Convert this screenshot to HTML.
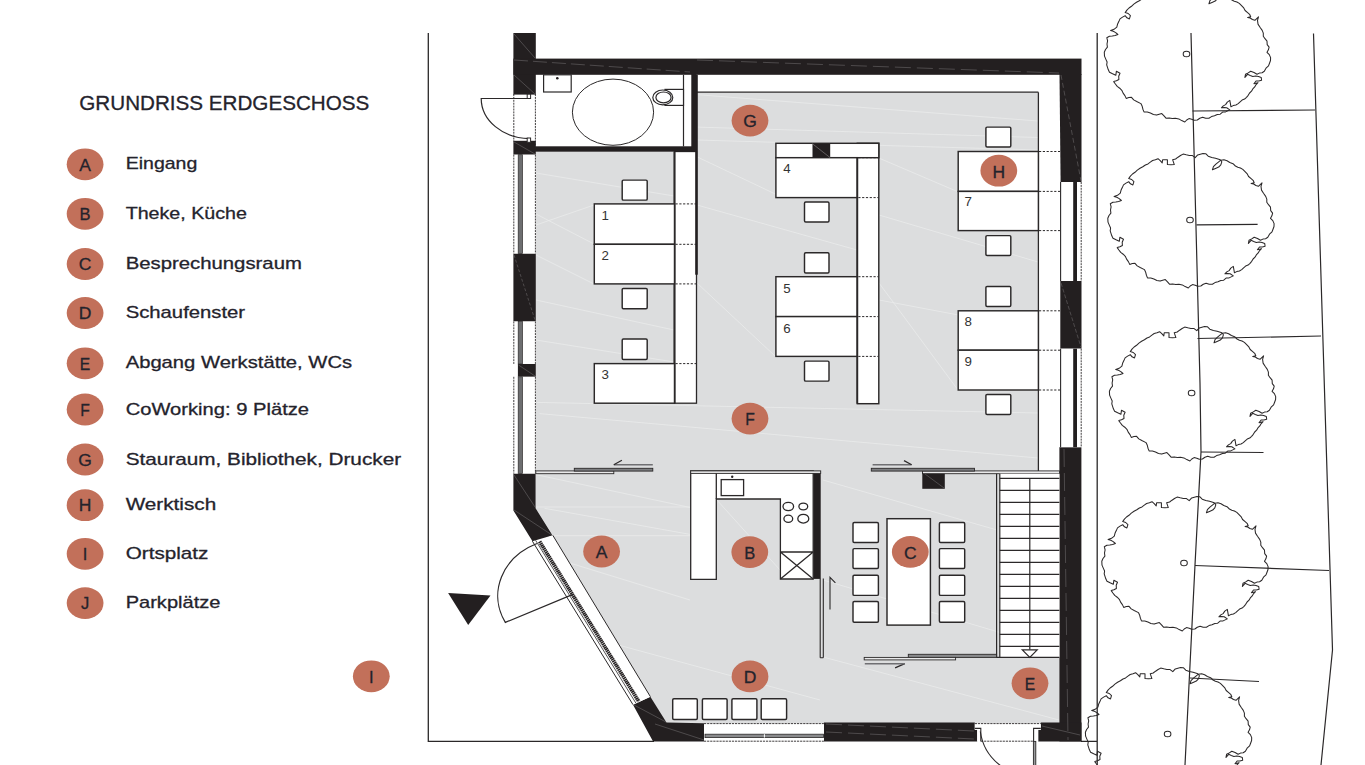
<!DOCTYPE html>
<html lang="de"><head><meta charset="utf-8"><title>Grundriss Erdgeschoss</title>
<style>html,body{margin:0;padding:0;background:#fff;overflow:hidden}svg{display:block}text{font-family:"Liberation Sans",sans-serif}.b{stroke:#24232c;stroke-width:0.3px}</style></head><body>
<svg width="1365" height="765" viewBox="0 0 1365 765">
<rect width="1365" height="765" fill="#fff"/>
<text class="b" x="79.3" y="110" font-size="20.6" fill="#24232c" textLength="290" lengthAdjust="spacingAndGlyphs">GRUNDRISS ERDGESCHOSS</text>
<ellipse cx="85.1" cy="164.3" rx="18.4" ry="15.9" fill="#c2705a"/>
<text class="b" x="85.1" y="170.6" font-size="16.5" fill="#24232c" text-anchor="middle" transform="translate(85.1 0) scale(1.06 1) translate(-85.1 0)">A</text>
<text class="b" x="125.7" y="169.4" font-size="17" fill="#24232c" textLength="71.6" lengthAdjust="spacingAndGlyphs">Eingang</text>
<ellipse cx="85.1" cy="213.8" rx="18.4" ry="15.9" fill="#c2705a"/>
<text class="b" x="85.1" y="220.1" font-size="16.5" fill="#24232c" text-anchor="middle" transform="translate(85.1 0) scale(1.0 1) translate(-85.1 0)">B</text>
<text class="b" x="125.7" y="218.9" font-size="17" fill="#24232c" textLength="121.2" lengthAdjust="spacingAndGlyphs">Theke, Küche</text>
<ellipse cx="85.1" cy="264.0" rx="18.4" ry="15.9" fill="#c2705a"/>
<text class="b" x="85.1" y="270.3" font-size="16.5" fill="#24232c" text-anchor="middle" transform="translate(85.1 0) scale(1.06 1) translate(-85.1 0)">C</text>
<text class="b" x="125.7" y="269.1" font-size="17" fill="#24232c" textLength="176.2" lengthAdjust="spacingAndGlyphs">Besprechungsraum</text>
<ellipse cx="85.1" cy="313.0" rx="18.4" ry="15.9" fill="#c2705a"/>
<text class="b" x="85.1" y="319.3" font-size="16.5" fill="#24232c" text-anchor="middle" transform="translate(85.1 0) scale(1.06 1) translate(-85.1 0)">D</text>
<text class="b" x="125.7" y="318.1" font-size="17" fill="#24232c" textLength="119.4" lengthAdjust="spacingAndGlyphs">Schaufenster</text>
<ellipse cx="85.1" cy="363.3" rx="18.4" ry="15.9" fill="#c2705a"/>
<text class="b" x="85.1" y="369.6" font-size="16.5" fill="#24232c" text-anchor="middle" transform="translate(85.1 0) scale(0.95 1) translate(-85.1 0)">E</text>
<text class="b" x="125.7" y="368.4" font-size="17" fill="#24232c" textLength="226.4" lengthAdjust="spacingAndGlyphs">Abgang Werkstätte, WCs</text>
<ellipse cx="85.1" cy="409.5" rx="18.4" ry="15.9" fill="#c2705a"/>
<text class="b" x="85.1" y="415.8" font-size="16.5" fill="#24232c" text-anchor="middle" transform="translate(85.1 0) scale(0.95 1) translate(-85.1 0)">F</text>
<text class="b" x="125.7" y="414.6" font-size="17" fill="#24232c" textLength="183.4" lengthAdjust="spacingAndGlyphs">CoWorking: 9 Plätze</text>
<ellipse cx="85.1" cy="459.5" rx="18.4" ry="15.9" fill="#c2705a"/>
<text class="b" x="85.1" y="465.8" font-size="16.5" fill="#24232c" text-anchor="middle" transform="translate(85.1 0) scale(1.06 1) translate(-85.1 0)">G</text>
<text class="b" x="125.7" y="464.6" font-size="17" fill="#24232c" textLength="275.4" lengthAdjust="spacingAndGlyphs">Stauraum, Bibliothek, Drucker</text>
<ellipse cx="85.1" cy="505.2" rx="18.4" ry="15.9" fill="#c2705a"/>
<text class="b" x="85.1" y="511.5" font-size="16.5" fill="#24232c" text-anchor="middle" transform="translate(85.1 0) scale(1.06 1) translate(-85.1 0)">H</text>
<text class="b" x="125.7" y="510.3" font-size="17" fill="#24232c" textLength="90.5" lengthAdjust="spacingAndGlyphs">Werktisch</text>
<ellipse cx="85.1" cy="553.8" rx="18.4" ry="15.9" fill="#c2705a"/>
<text class="b" x="85.1" y="560.1" font-size="16.5" fill="#24232c" text-anchor="middle" transform="translate(85.1 0) scale(1.0 1) translate(-85.1 0)">I</text>
<text class="b" x="125.7" y="558.9" font-size="17" fill="#24232c" textLength="82.7" lengthAdjust="spacingAndGlyphs">Ortsplatz</text>
<ellipse cx="85.1" cy="603.1" rx="18.4" ry="15.9" fill="#c2705a"/>
<text class="b" x="85.1" y="609.4" font-size="16.5" fill="#24232c" text-anchor="middle" transform="translate(85.1 0) scale(1.0 1) translate(-85.1 0)">J</text>
<text class="b" x="125.7" y="608.2" font-size="17" fill="#24232c" textLength="94.7" lengthAdjust="spacingAndGlyphs">Parkplätze</text>
<g fill="none" stroke="#2b2829" stroke-width="1.3">
<path d="M428.3 33 V741.4 H654"/>
<path d="M1097.2 33 V766 M1097.2 741.4 H1081"/>
</g>
<g fill="#dcddde">
<rect x="535.8" y="151.5" width="162" height="320"/>
<rect x="696.5" y="92.2" width="342" height="380"/>
<path d="M535.6 470.9 H1059.5 V723.5 H666.5 L552.8 535.3 L535.6 508.2 Z"/>
</g>
<g stroke="#eaebeb" stroke-width="0.8" fill="none">
<path d="M535.8 474.6 L690.2 507.5"/>
<path d="M535.8 507 L690 507"/>
<path d="M544.5 508.3 L690.2 534.4"/>
<path d="M553 535.7 L690 535.7"/>
<path d="M539.5 413.6 L1038 458"/>
<path d="M537 402.4 L1038 413"/>
<path d="M697.4 127.1 L1038 137.5"/>
<path d="M697.4 94.7 L1038 121"/>
<path d="M697.4 157 L775.9 194.3"/>
<path d="M879.2 158.2 L958.2 191.9"/>
<path d="M536 214 L594 244"/>
<path d="M536 255 L594 284"/>
<path d="M536 300 L674 330"/>
<path d="M536 340 L674 362"/>
<path d="M697 205 L857 250"/>
<path d="M697 283 L775 356"/>
<path d="M879 283 L958 390"/>
<path d="M879 215 L1038 262"/>
<path d="M879 300 L1038 330"/>
<path d="M560 560 L690 600"/>
<path d="M600 640 L820 700"/>
<path d="M823 657 L1059 720"/>
<path d="M823 580 L1059 650"/>
<path d="M716 499 L780 570"/>
<path d="M823 480 L997 530"/>
<path d="M536 173 L674 196"/>
<path d="M536 225 L594 205"/>
<path d="M697 140 L1038 150"/>
</g>
<rect x="535.8" y="74.8" width="156" height="72" fill="#fff"/>
<rect x="696.5" y="74.8" width="363" height="17.4" fill="#fff"/>
<path d="M696.5 92.2 H1038.4" stroke="#2b2829" stroke-width="1.3" fill="none"/>
<rect x="1038.4" y="92.2" width="22" height="378.7" fill="#fff"/>
<path d="M1038.4 92.2 V470.9" stroke="#2b2829" stroke-width="1.3" fill="none"/>
<rect x="674.5" y="151.5" width="22.0" height="251.7" fill="#fff" stroke="#2b2829" stroke-width="1.3" />
<path d="M674.5 151.5 V403.2" stroke="#2b2829" stroke-width="2" fill="none"/>
<path d="M696.5 74.8 V274.7" stroke="#231f20" stroke-width="2.6" fill="none"/>
<rect x="594.3" y="203.9" width="80.2" height="40.4" fill="#fff" stroke="#2b2829" stroke-width="1.45" />
<rect x="594.3" y="244.3" width="80.2" height="39.6" fill="#fff" stroke="#2b2829" stroke-width="1.45" />
<rect x="594.3" y="363.6" width="80.2" height="39.6" fill="#fff" stroke="#2b2829" stroke-width="1.45" />
<rect x="622.2" y="180.1" width="25.0" height="20.0" fill="#fff" stroke="#2b2829" stroke-width="1.45" rx="1.2"/>
<rect x="622.2" y="288.4" width="25.0" height="20.4" fill="#fff" stroke="#2b2829" stroke-width="1.45" rx="1.2"/>
<rect x="622.2" y="339" width="25.0" height="20.4" fill="#fff" stroke="#2b2829" stroke-width="1.45" rx="1.2"/>
<rect x="857.3" y="143.3" width="21.5" height="260.4" fill="#fff" stroke="#2b2829" stroke-width="1.45" />
<rect x="775.9" y="143.3" width="102.9" height="14.4" fill="#fff" stroke="#2b2829" stroke-width="1.45" />
<rect x="775.9" y="157.7" width="81.4" height="39.9" fill="#fff" stroke="#2b2829" stroke-width="1.45" />
<rect x="775.9" y="276.7" width="81.4" height="39.9" fill="#fff" stroke="#2b2829" stroke-width="1.45" />
<rect x="775.9" y="316.6" width="81.4" height="39.8" fill="#fff" stroke="#2b2829" stroke-width="1.45" />
<path d="M857.3 157.7 V403.7" stroke="#2b2829" stroke-width="1.8" fill="none"/>
<rect x="812.5" y="143.8" width="17.7" height="13.9" fill="#231f20"/>
<path d="M812.5 143.8 L830.2 157.7" stroke="#8a8788" stroke-width="0.6"/>
<rect x="804.5" y="202" width="24.5" height="19.9" fill="#fff" stroke="#2b2829" stroke-width="1.45" rx="1.2"/>
<rect x="804.5" y="252.8" width="24.5" height="20.2" fill="#fff" stroke="#2b2829" stroke-width="1.45" rx="1.2"/>
<rect x="804.5" y="361.1" width="24.5" height="20.0" fill="#fff" stroke="#2b2829" stroke-width="1.45" rx="1.2"/>
<rect x="958.2" y="151.5" width="80.2" height="39.9" fill="#fff" stroke="#2b2829" stroke-width="1.45" />
<rect x="958.2" y="191.4" width="80.2" height="39.2" fill="#fff" stroke="#2b2829" stroke-width="1.45" />
<rect x="958.2" y="310.8" width="80.2" height="39.4" fill="#fff" stroke="#2b2829" stroke-width="1.45" />
<rect x="958.2" y="350.2" width="80.2" height="39.8" fill="#fff" stroke="#2b2829" stroke-width="1.45" />
<rect x="985.9" y="127.1" width="24.9" height="19.9" fill="#fff" stroke="#2b2829" stroke-width="1.45" rx="1.2"/>
<rect x="985.9" y="235.6" width="24.9" height="19.9" fill="#fff" stroke="#2b2829" stroke-width="1.45" rx="1.2"/>
<rect x="985.9" y="286.4" width="24.9" height="20.0" fill="#fff" stroke="#2b2829" stroke-width="1.45" rx="1.2"/>
<rect x="985.9" y="394.4" width="24.9" height="20.0" fill="#fff" stroke="#2b2829" stroke-width="1.45" rx="1.2"/>
<g stroke="#2b2829" stroke-width="1" stroke-dasharray="2.2 1.6" fill="none">
<path d="M675.5 203.9 H696"/>
<path d="M675.5 244.3 H696"/>
<path d="M675.5 283.9 H696"/>
<path d="M675.5 363.6 H696"/>
<path d="M858.3 157.7 H878.5"/>
<path d="M858.3 197.6 H878.5"/>
<path d="M858.3 276.7 H878.5"/>
<path d="M858.3 316.6 H878.5"/>
<path d="M858.3 356.4 H878.5"/>
<path d="M1039 151.5 H1060"/>
<path d="M1039 191.4 H1060"/>
<path d="M1039 230.6 H1060"/>
<path d="M1039 310.8 H1060"/>
<path d="M1039 350.2 H1060"/>
<path d="M1039 390 H1060"/>
</g>
<text x="601.5" y="220.2" font-size="12.2" fill="#333" textLength="7.4" lengthAdjust="spacingAndGlyphs">1</text>
<text x="601.5" y="259.9" font-size="12.2" fill="#333" textLength="7.4" lengthAdjust="spacingAndGlyphs">2</text>
<text x="601.5" y="379" font-size="12.2" fill="#333" textLength="7.4" lengthAdjust="spacingAndGlyphs">3</text>
<text x="783.2" y="172.9" font-size="12.2" fill="#333" textLength="7.4" lengthAdjust="spacingAndGlyphs">4</text>
<text x="783.2" y="292.8" font-size="12.2" fill="#333" textLength="7.4" lengthAdjust="spacingAndGlyphs">5</text>
<text x="783.2" y="332.6" font-size="12.2" fill="#333" textLength="7.4" lengthAdjust="spacingAndGlyphs">6</text>
<text x="964.5" y="206.4" font-size="12.2" fill="#333" textLength="7.4" lengthAdjust="spacingAndGlyphs">7</text>
<text x="964.5" y="325.9" font-size="12.2" fill="#333" textLength="7.4" lengthAdjust="spacingAndGlyphs">8</text>
<text x="964.5" y="365.7" font-size="12.2" fill="#333" textLength="7.4" lengthAdjust="spacingAndGlyphs">9</text>
<g fill="#231f20">
<rect x="513.4" y="33" width="22.4" height="61.6"/>
<rect x="513.4" y="140.8" width="22.4" height="13.9"/>
<rect x="513.4" y="58.6" width="568.1" height="16.2"/>
<path d="M1059.5 74 H1081.5 V182 H1060.6 Z"/>
<rect x="1060.3" y="281" width="21.2" height="67.7"/>
<rect x="1059.4" y="447.2" width="22" height="294.2"/>
<rect x="535" y="146.3" width="161.5" height="5.4"/>
<rect x="691.3" y="74" width="5.2" height="77.6"/>
<rect x="513.4" y="253.5" width="22.4" height="68"/>
<rect x="517.9" y="363.9" width="17.9" height="12.9"/>
<path d="M513.4 473.5 H535.6 V508.2 L552.6 535.5 L533.4 542.8 L513.4 510.4 Z"/>
<path d="M633 704.7 L650.4 696.7 L666.5 722.6 L704 723.3 V741.4 H653.1 Z"/>
<path d="M823.9 722.6 H974.8 V729.8 H977.2 V741.4 H823.9 Z"/>
<path d="M1040.8 722.6 H1081.5 V741.4 H1038.2 V729.8 H1040.8 Z"/>
<rect x="922.3" y="472" width="22.5" height="16.8"/>
<rect x="813.2" y="470.9" width="7.5" height="108"/>
</g>
<g stroke="#6a6768" stroke-width="0.6" fill="none">
<path d="M514 34 L535 58" /><path d="M514 60 L690 72" stroke-dasharray="14 5"/><path d="M697 60 L1059 73" stroke-dasharray="16 6"/>
<path d="M514 75 L535 94"/><path d="M514 142 L535 154"/><path d="M514 255 L535 320" stroke-dasharray="3 2"/>
<path d="M1061 75 L1081 181" stroke-dasharray="5 3"/><path d="M1061 283 L1081 347" stroke-dasharray="4 2"/><path d="M1064 449 L1068 740" stroke-dasharray="18 6"/>
<path d="M514 475 L535 507"/><path d="M514 510 L552 535"/><path d="M634 705 L666 722"/><path d="M655 724 L704 740"/>
<path d="M826 724 L974 731" stroke-dasharray="16 6"/><path d="M826 732 L974 739" stroke-dasharray="16 6"/><path d="M1042 726 L1080 735"/>
<path d="M923 472.5 L944 488" /><path d="M518.5 365 L535 376"/>
</g>
<g fill="#fff" stroke="#2b2829" stroke-width="1.2">
<path d="M683.5 74.8 V146.5" fill="none"/>
<rect x="543.6" y="74.8" width="27.6" height="17.2"/>
<ellipse cx="613" cy="112.2" rx="40.6" ry="33.1" stroke-width="1"/>
<rect x="665" y="89.4" width="18.5" height="16"/>
<ellipse cx="662.8" cy="97.4" rx="10" ry="7.4"/>
<ellipse cx="663.5" cy="97.4" rx="7.6" ry="5.4"/>
</g>
<circle cx="557.3" cy="78.2" r="1.3" fill="#231f20"/>
<g fill="none" stroke="#2b2829" stroke-width="1.2">
<path d="M530.4 98.5 H481.2 A49 40.2 0 0 0 529.5 138.6"/>
<rect x="527.2" y="94.2" width="3.4" height="4.3" fill="#fff" stroke-width="1"/>
<rect x="527.2" y="138" width="3.4" height="4.3" fill="#fff" stroke-width="1"/>
</g>
<g fill="none" stroke="#2b2829" stroke-width="0.9" stroke-dasharray="2 0.9">
<path d="M513.8 94 V141.5"/><path d="M535.4 94 V146"/>
</g>
<rect x="513.4" y="154.7" width="22.4" height="98.8" fill="#fff"/>
<rect x="518.2" y="154.7" width="4.2" height="98.8" fill="#6d6e70" stroke="#2b2829" stroke-width="0.7"/>
<g fill="none" stroke="#2b2829" stroke-width="0.9" stroke-dasharray="2 0.9"><path d="M513.8 154.7 V253.5"/><path d="M535.4 154.7 V253.5"/></g>
<rect x="513.4" y="321.5" width="22.4" height="42.4" fill="#fff"/>
<rect x="518.2" y="321.5" width="4.2" height="42.4" fill="#6d6e70" stroke="#2b2829" stroke-width="0.7"/>
<g fill="none" stroke="#2b2829" stroke-width="0.9" stroke-dasharray="2 0.9"><path d="M513.8 321.5 V363.9"/><path d="M535.4 321.5 V363.9"/></g>
<rect x="513.4" y="376.8" width="22.4" height="96.7" fill="#fff"/>
<rect x="518.2" y="376.8" width="4.2" height="96.7" fill="#6d6e70" stroke="#2b2829" stroke-width="0.7"/>
<g fill="none" stroke="#2b2829" stroke-width="0.9" stroke-dasharray="2 0.9"><path d="M513.8 376.8 V473.5"/><path d="M535.4 376.8 V473.5"/></g>
<rect x="1060.3" y="182" width="21.2" height="99.0" fill="#fff"/>
<path d="M1060.6 182 V281" stroke="#2b2829" stroke-width="1.1" fill="none"/>
<rect x="1073.2" y="182" width="3.8" height="99.0" fill="#231f20"/>
<path d="M1081.2 182 V281" stroke="#2b2829" stroke-width="0.9" stroke-dasharray="2 0.9" fill="none"/>
<rect x="1060.3" y="348.7" width="21.2" height="98.5" fill="#fff"/>
<path d="M1060.6 348.7 V447.2" stroke="#2b2829" stroke-width="1.1" fill="none"/>
<rect x="1073.2" y="348.7" width="3.8" height="98.5" fill="#231f20"/>
<path d="M1081.2 348.7 V447.2" stroke="#2b2829" stroke-width="0.9" stroke-dasharray="2 0.9" fill="none"/>
<g fill="#e9e9ea" stroke="#2b2829" stroke-width="0.9">
<rect x="535.8" y="470.9" width="78" height="2.8"/>
<rect x="922.5" y="470.9" width="137" height="2.8"/>
</g>
<g fill="#7c7d80" stroke="#2b2829" stroke-width="0.9">
<rect x="574.3" y="468.3" width="78.5" height="2.8"/>
<rect x="871.3" y="468.3" width="103.2" height="2.8"/>
</g>
<g fill="none" stroke="#6f6f72" stroke-width="1.5">
<path d="M613.8 464.7 H652.8"/><path d="M872.6 464.7 H911.4"/>
</g>
<g fill="none" stroke="#2b2829" stroke-width="1.2">
<path d="M613.8 464.7 L621.9 460.3"/><path d="M911.7 464.7 L904 460.6"/>
</g>
<g fill="#fff" stroke="#2b2829" stroke-width="1.3">
<path d="M690.7 470.9 H813.2 V579 H780.4 V499 H716.3 V579.3 H690.7 Z"/>
<path d="M716.3 470.9 V499" fill="none"/>
<rect x="721.2" y="479.6" width="22.4" height="16"/>
<path d="M780.4 552 H813.2 M780.4 552 L813.2 579 M813.2 552 L780.4 579" fill="none"/>
<ellipse cx="788.3" cy="506.5" rx="5.3" ry="4.1"/>
<ellipse cx="803.3" cy="506.5" rx="4.4" ry="3.4"/>
<ellipse cx="788.3" cy="518.7" rx="4.4" ry="3.6"/>
<ellipse cx="803.3" cy="518.7" rx="5.5" ry="4.4"/>
</g>
<rect x="690.7" y="470.9" width="130" height="2.5" fill="#e9e9ea" stroke="#2b2829" stroke-width="0.9"/>
<circle cx="732.2" cy="476.8" r="1.2" fill="#231f20"/>
<g fill="none" stroke="#2b2829" stroke-width="1.1">
<path d="M820.2 578.5 V657.8 M823.3 578.5 V657.8 M820.2 657.8 H823.3"/>
<path d="M830 609.6 V577.4 L835.4 582.8"/>
</g>
<rect x="887" y="518.7" width="43.4" height="106.4" fill="#fff" stroke="#2b2829" stroke-width="1.45" />
<rect x="853" y="522.5" width="25.4" height="19.9" fill="#fff" stroke="#2b2829" stroke-width="1.45" rx="1.2"/>
<rect x="939.4" y="522.5" width="25.3" height="19.9" fill="#fff" stroke="#2b2829" stroke-width="1.45" rx="1.2"/>
<rect x="853" y="548.6" width="25.4" height="19.9" fill="#fff" stroke="#2b2829" stroke-width="1.45" rx="1.2"/>
<rect x="939.4" y="548.6" width="25.3" height="19.9" fill="#fff" stroke="#2b2829" stroke-width="1.45" rx="1.2"/>
<rect x="853" y="575.3" width="25.4" height="20.1" fill="#fff" stroke="#2b2829" stroke-width="1.45" rx="1.2"/>
<rect x="939.4" y="575.3" width="25.3" height="20.1" fill="#fff" stroke="#2b2829" stroke-width="1.45" rx="1.2"/>
<rect x="853" y="601.5" width="25.4" height="20.7" fill="#fff" stroke="#2b2829" stroke-width="1.45" rx="1.2"/>
<rect x="939.4" y="601.5" width="25.3" height="20.7" fill="#fff" stroke="#2b2829" stroke-width="1.45" rx="1.2"/>
<rect x="999.6" y="473.7" width="59.8" height="183.7" fill="#fff"/>
<g fill="none" stroke="#2b2829" stroke-width="1.2">
<path d="M996.6 473.7 V657.4 M999.8 473.7 V657.4"/>
<path d="M999.7 478.4 H1059.4 M999.7 490.4 H1059.4 M999.7 502.4 H1059.4 M999.7 514.4 H1059.4 M999.7 526.4 H1059.4 M999.7 538.4 H1059.4 M999.7 550.4 H1059.4 M999.7 562.4 H1059.4 M999.7 574.4 H1059.4 M999.7 586.4 H1059.4 M999.7 598.4 H1059.4 M999.7 610.4 H1059.4 M999.7 622.4 H1059.4 M999.7 634.4 H1059.4 M999.7 646.4 H1059.4"/>
<path d="M1029.8 478.4 V649.8"/>
<path d="M1022.3 649.8 H1037.2 L1029.8 657.4 Z" fill="#fff"/>
<path d="M996.6 657.4 H1059.4"/>
<path d="M904.8 663.6 L895.1 667.9"/>
</g>
<g fill="#8a8b8d" stroke="#2b2829" stroke-width="0.9">
<rect x="908.3" y="654.3" width="88.3" height="3.1"/>
<rect x="864.2" y="657.4" width="91.4" height="2.5" fill="#e9e9ea"/>
<path d="M864.8 663.8 H904.8" stroke="#6f6f72" stroke-width="1.5"/>
</g>
<rect x="672.7" y="698.7" width="24.6" height="20.7" fill="#fff" stroke="#2b2829" stroke-width="1.45" rx="1.2"/>
<rect x="702.4" y="698.7" width="24.7" height="20.7" fill="#fff" stroke="#2b2829" stroke-width="1.45" rx="1.2"/>
<rect x="731.9" y="698.7" width="25.0" height="20.7" fill="#fff" stroke="#2b2829" stroke-width="1.45" rx="1.2"/>
<rect x="761.2" y="698.7" width="25.4" height="20.7" fill="#fff" stroke="#2b2829" stroke-width="1.45" rx="1.2"/>
<rect x="704" y="723.5" width="119.9" height="17.9" fill="#fff"/>
<rect x="705" y="734.2" width="118.5" height="3.4" fill="#8a8b8d" stroke="#2b2829" stroke-width="0.8"/>
<path d="M764.4 734.2 V737.6" stroke="#fff" stroke-width="1"/>
<g fill="none" stroke="#2b2829" stroke-width="0.9" stroke-dasharray="2.2 0.9"><path d="M704 723.6 H823.9"/><path d="M704 741.2 H823.9"/></g>
<rect x="974.8" y="723.5" width="66" height="6.3" fill="#fff"/>
<rect x="977.2" y="729.8" width="61" height="11.6" fill="#fff"/>
<g fill="none" stroke="#2b2829" stroke-width="0.9" stroke-dasharray="2.2 0.9"><path d="M974.8 723.6 H1040.8"/><path d="M981 741.2 H1034"/></g>
<g fill="none" stroke="#2b2829" stroke-width="1.1">
<path d="M974.8 728.4 H980.8 V741.4"/><path d="M1040.8 728.4 H1033.6 V741.4"/>
<path d="M980.3 731.5 Q983.5 754 1002.5 767"/>
</g>
<rect x="1033.4" y="741.4" width="2.4" height="30" fill="#9a9b9d" stroke="#2b2829" stroke-width="0.9"/>
<path d="M532.4 541.2 L552.8 535.3 L650.4 696.7 L633 704.7 Z" fill="#fff"/>
<g fill="none" stroke="#2b2829" stroke-width="1">
<path d="M532.4 541.2 L633 704.7"/>
<path d="M535.6 540.3 L636 703.3" stroke-width="0.8"/>
<path d="M552.8 535.3 L650.4 696.7"/>
</g>
<path d="M539.6 541.5 L638.8 701.5" stroke="#231f20" stroke-width="3.7" stroke-dasharray="1.5 0.5" fill="none"/>
<g fill="none" stroke="#2b2829" stroke-width="1.2">
<path d="M537 543.5 A66 57.3 0 0 0 505.3 622.4 L573.5 594.1"/>
</g>
<path d="M448.1 593 L490.5 595.6 L468.2 625.1 Z" fill="#231f20"/>
<ellipse cx="750" cy="120.6" rx="18.4" ry="15.9" fill="#c2705a"/>
<text class="b" x="750" y="127.5" font-size="16.5" fill="#24232c" text-anchor="middle" transform="translate(750 0) scale(1.06 1) translate(-750 0)">G</text>
<ellipse cx="998.8" cy="170.7" rx="18.4" ry="15.9" fill="#c2705a"/>
<text class="b" x="998.8" y="177.6" font-size="16.5" fill="#24232c" text-anchor="middle" transform="translate(998.8 0) scale(1.06 1) translate(-998.8 0)">H</text>
<ellipse cx="750" cy="418.6" rx="18.4" ry="15.9" fill="#c2705a"/>
<text class="b" x="750" y="425.5" font-size="16.5" fill="#24232c" text-anchor="middle" transform="translate(750 0) scale(0.95 1) translate(-750 0)">F</text>
<ellipse cx="601.6" cy="551.5" rx="18.4" ry="15.9" fill="#c2705a"/>
<text class="b" x="601.6" y="558.4" font-size="16.5" fill="#24232c" text-anchor="middle" transform="translate(601.6 0) scale(1.06 1) translate(-601.6 0)">A</text>
<ellipse cx="749.8" cy="552.1" rx="18.4" ry="15.9" fill="#c2705a"/>
<text class="b" x="749.8" y="559.0" font-size="16.5" fill="#24232c" text-anchor="middle" transform="translate(749.8 0) scale(1.0 1) translate(-749.8 0)">B</text>
<ellipse cx="910.3" cy="551.9" rx="18.4" ry="15.9" fill="#c2705a"/>
<text class="b" x="910.3" y="558.8" font-size="16.5" fill="#24232c" text-anchor="middle" transform="translate(910.3 0) scale(1.06 1) translate(-910.3 0)">C</text>
<ellipse cx="750" cy="676.4" rx="18.4" ry="15.9" fill="#c2705a"/>
<text class="b" x="750" y="683.3" font-size="16.5" fill="#24232c" text-anchor="middle" transform="translate(750 0) scale(1.06 1) translate(-750 0)">D</text>
<ellipse cx="1030" cy="683.3" rx="18.4" ry="15.9" fill="#c2705a"/>
<text class="b" x="1030" y="690.2" font-size="16.5" fill="#24232c" text-anchor="middle" transform="translate(1030 0) scale(0.95 1) translate(-1030 0)">E</text>
<ellipse cx="371.3" cy="676.3" rx="18.4" ry="15.9" fill="#c2705a"/>
<text class="b" x="371.3" y="683.2" font-size="16.5" fill="#24232c" text-anchor="middle" transform="translate(371.3 0) scale(1.0 1) translate(-371.3 0)">I</text>
<g fill="none" stroke="#2b2829" stroke-width="1.2">
<path d="M1191 33 L1200 383 L1201 452 L1195 565 L1185 765"/>
<path d="M1313.5 33.5 L1332.5 650 L1321 765"/>
<path d="M1192.5 111 L1315 110"/>
<path d="M1196.5 224.9 L1257.6 224.4"/>
<path d="M1197.5 338.5 L1321 336"/>
<path d="M1201 452 L1263.5 452.5"/>
<path d="M1195 565.5 L1329 570.5"/>
<path d="M1190 678 L1259 681.5"/>
</g>
<g fill="none" stroke="#2b2829" stroke-width="1.05" stroke-linejoin="round">
<path d="M1191.7 -8.3 L1194.2 -11.1 L1196.8 -11.8 L1199.5 -12.5 L1202.2 -12.3 L1204.7 -9.8 L1208.3 -8.5 L1212.0 -7.7 L1216.8 -6.3 L1218.3 -4.2 L1217.3 -1.2 L1215.2 1.1 L1212.0 2.4 L1208.9 3.8 L1209.9 0.7 L1212.4 -1.9 L1215.2 -4.2 L1217.3 -5.8 L1220.5 -6.2 L1223.5 -5.2 L1226.3 -3.5 L1229.5 -2.3 L1231.9 0.0 L1234.3 1.2 L1236.9 2.0 L1239.3 3.4 L1241.3 5.3 L1243.5 7.6 L1245.1 10.5 L1247.6 12.6 L1249.6 14.3 L1250.7 16.8 L1247.6 17.4 L1250.2 18.0 L1252.4 19.5 L1254.9 20.3 L1258.5 16.8 L1257.5 20.4 L1258.0 24.1 L1260.0 27.3 L1262.2 30.4 L1263.3 33.1 L1263.3 36.2 L1265.0 38.7 L1267.0 41.2 L1267.2 44.6 L1269.1 47.1 L1268.4 49.8 L1267.0 52.3 L1269.3 54.6 L1270.6 57.6 L1270.5 60.5 L1269.5 63.2 L1268.5 65.9 L1266.0 68.2 L1264.3 71.2 L1262.1 72.7 L1259.4 73.1 L1257.0 74.3 L1254.0 72.5 L1250.7 71.2 L1248.2 72.9 L1245.5 74.3 L1244.9 77.4 L1247.6 74.3 L1250.2 75.4 L1252.8 76.4 L1255.7 76.0 L1258.5 76.4 L1261.2 77.4 L1261.6 80.2 L1258.8 81.0 L1256.0 81.0 L1253.9 83.7 L1258.0 82.7 L1256.1 84.6 L1254.7 86.9 L1252.8 88.9 L1251.5 91.2 L1249.6 93.0 L1248.2 95.3 L1246.5 97.3 L1244.6 99.1 L1242.1 100.1 L1240.1 101.8 L1238.2 103.6 L1235.9 105.0 L1233.2 105.6 L1230.9 106.7 L1230.4 103.6 L1229.8 100.4 L1227.3 102.1 L1225.6 104.6 L1223.3 105.9 L1221.4 107.8 L1224.1 107.4 L1226.7 107.8 L1229.8 109.9 L1225.6 111.9 L1222.6 112.1 L1220.2 114.2 L1217.3 114.5 L1214.5 115.8 L1211.5 116.6 L1208.9 118.2 L1205.7 118.3 L1202.6 117.2 L1199.8 118.2 L1197.3 120.0 L1194.2 120.3 L1191.7 119.2 L1189.0 118.6 L1186.7 120.0 L1184.8 122.0 L1181.7 120.6 L1178.8 118.9 L1175.4 118.2 L1172.3 118.5 L1169.1 117.9 L1166.0 118.2 L1164.0 115.8 L1161.8 113.6 L1159.2 114.2 L1156.6 115.1 L1153.4 114.4 L1150.4 113.0 L1147.3 112.0 L1144.0 111.9 L1142.9 109.2 L1142.2 106.3 L1140.9 103.6 L1136.7 101.5 L1133.7 99.9 L1131.5 97.3 L1128.8 97.5 L1126.2 98.4 L1124.9 95.6 L1123.1 93.1 L1121.8 90.3 L1119.7 88.2 L1117.2 86.4 L1115.4 84.0 L1113.7 81.6 L1116.4 80.8 L1118.9 79.5 L1118.7 76.3 L1120.0 73.2 L1116.4 71.2 L1115.8 75.3 L1112.6 73.8 L1109.5 72.2 L1108.3 69.8 L1107.5 67.3 L1106.7 64.9 L1107.1 62.0 L1106.0 59.6 L1104.5 56.1 L1104.3 52.3 L1105.5 49.5 L1107.4 47.1 L1107.0 44.0 L1107.6 40.8 L1106.8 37.7 L1109.4 36.3 L1112.3 36.0 L1115.1 35.4 L1117.9 34.5 L1115.7 32.6 L1113.3 31.3 L1110.6 30.4 L1114.0 29.3 L1116.8 27.2 L1117.5 24.3 L1118.8 21.6 L1120.0 18.9 L1122.5 17.1 L1125.2 15.7 L1126.9 17.8 L1129.4 18.9 L1130.4 15.7 L1128.2 13.5 L1125.2 12.6 L1126.9 10.1 L1129.0 8.0 L1131.5 6.3 L1133.8 4.1 L1136.5 2.3 L1139.3 0.8 L1141.9 -1.0 L1144.5 -2.1 L1146.8 -3.9 L1149.1 -5.5 L1151.9 -6.2 L1154.5 -7.3 L1156.7 -5.4 L1158.7 -3.1 L1159.1 -6.3 L1163.9 -6.3 L1163.9 -1.4 L1167.4 -1.3 L1170.8 -1.4 L1169.1 -6.3 L1172.1 -7.0 L1174.5 -8.8 L1177.0 -10.5 L1179.6 -11.9 L1182.7 -11.2 L1185.8 -10.6 L1189.0 -10.4 Z"/>
<ellipse cx="1186.5" cy="54" rx="3.3" ry="2.8"/>
<path d="M1195.2 157.7 L1197.7 154.9 L1200.3 154.2 L1203.0 153.5 L1205.7 153.7 L1208.2 156.2 L1211.8 157.5 L1215.5 158.3 L1220.3 159.7 L1221.8 161.8 L1220.8 164.8 L1218.7 167.1 L1215.5 168.4 L1212.4 169.8 L1213.4 166.7 L1215.9 164.1 L1218.7 161.8 L1220.8 160.2 L1224.0 159.8 L1227.0 160.8 L1229.8 162.5 L1233.0 163.7 L1235.4 166.0 L1237.8 167.2 L1240.4 168.0 L1242.8 169.4 L1244.8 171.3 L1247.0 173.6 L1248.6 176.5 L1251.1 178.6 L1253.1 180.3 L1254.2 182.8 L1251.1 183.4 L1253.7 184.0 L1255.9 185.5 L1258.4 186.3 L1262.0 182.8 L1261.0 186.4 L1261.5 190.1 L1263.5 193.3 L1265.7 196.4 L1266.8 199.1 L1266.8 202.2 L1268.5 204.7 L1270.5 207.2 L1270.7 210.6 L1272.6 213.1 L1271.9 215.8 L1270.5 218.3 L1272.8 220.6 L1274.1 223.6 L1274.0 226.5 L1273.0 229.2 L1272.0 231.9 L1269.5 234.2 L1267.8 237.2 L1265.6 238.7 L1262.9 239.1 L1260.5 240.3 L1257.5 238.5 L1254.2 237.2 L1251.7 238.9 L1249.0 240.3 L1248.4 243.4 L1251.1 240.3 L1253.7 241.4 L1256.3 242.4 L1259.2 242.0 L1262.0 242.4 L1264.7 243.4 L1265.1 246.2 L1262.3 247.0 L1259.5 247.0 L1257.4 249.7 L1261.5 248.7 L1259.6 250.6 L1258.2 252.9 L1256.3 254.9 L1255.0 257.2 L1253.1 259.0 L1251.7 261.3 L1250.0 263.3 L1248.1 265.1 L1245.6 266.1 L1243.6 267.8 L1241.7 269.6 L1239.4 271.0 L1236.7 271.6 L1234.4 272.7 L1233.9 269.6 L1233.3 266.4 L1230.8 268.1 L1229.1 270.6 L1226.8 271.9 L1224.9 273.8 L1227.6 273.4 L1230.2 273.8 L1233.3 275.9 L1229.1 277.9 L1226.1 278.1 L1223.7 280.2 L1220.8 280.5 L1218.0 281.8 L1215.0 282.6 L1212.4 284.2 L1209.2 284.3 L1206.1 283.2 L1203.3 284.2 L1200.8 286.0 L1197.7 286.3 L1195.2 285.2 L1192.5 284.6 L1190.2 286.0 L1188.3 288.0 L1185.2 286.6 L1182.3 284.9 L1178.9 284.2 L1175.8 284.5 L1172.6 283.9 L1169.5 284.2 L1167.5 281.8 L1165.3 279.6 L1162.7 280.2 L1160.1 281.1 L1156.9 280.4 L1153.9 279.0 L1150.8 278.0 L1147.5 277.9 L1146.4 275.2 L1145.7 272.3 L1144.4 269.6 L1140.2 267.5 L1137.2 265.9 L1135.0 263.3 L1132.3 263.5 L1129.7 264.4 L1128.4 261.6 L1126.6 259.1 L1125.3 256.3 L1123.2 254.2 L1120.7 252.4 L1118.9 250.0 L1117.2 247.6 L1119.9 246.8 L1122.4 245.5 L1122.2 242.3 L1123.5 239.2 L1119.9 237.2 L1119.3 241.3 L1116.1 239.8 L1113.0 238.2 L1111.8 235.8 L1111.0 233.3 L1110.2 230.9 L1110.6 228.0 L1109.5 225.6 L1108.0 222.1 L1107.8 218.3 L1109.0 215.5 L1110.9 213.1 L1110.5 210.0 L1111.1 206.8 L1110.3 203.7 L1112.9 202.3 L1115.8 202.0 L1118.6 201.4 L1121.4 200.5 L1119.2 198.6 L1116.8 197.3 L1114.1 196.4 L1117.5 195.3 L1120.3 193.2 L1121.0 190.3 L1122.3 187.6 L1123.5 184.9 L1126.0 183.1 L1128.7 181.7 L1130.4 183.8 L1132.9 184.9 L1133.9 181.7 L1131.7 179.5 L1128.7 178.6 L1130.4 176.1 L1132.5 174.0 L1135.0 172.3 L1137.3 170.1 L1140.0 168.3 L1142.8 166.8 L1145.4 165.0 L1148.0 163.9 L1150.3 162.1 L1152.6 160.5 L1155.4 159.8 L1158.0 158.7 L1160.2 160.6 L1162.2 162.9 L1162.6 159.7 L1167.4 159.7 L1167.4 164.6 L1170.9 164.7 L1174.3 164.6 L1172.6 159.7 L1175.6 159.0 L1178.0 157.2 L1180.5 155.5 L1183.1 154.1 L1186.2 154.8 L1189.3 155.4 L1192.5 155.6 Z"/>
<ellipse cx="1190" cy="220" rx="3.3" ry="2.8"/>
<path d="M1196.8 330.7 L1199.3 327.9 L1201.9 327.2 L1204.6 326.5 L1207.3 326.7 L1209.8 329.2 L1213.4 330.5 L1217.1 331.3 L1221.9 332.7 L1223.4 334.8 L1222.4 337.8 L1220.3 340.1 L1217.1 341.4 L1214.0 342.8 L1215.0 339.7 L1217.5 337.1 L1220.3 334.8 L1222.4 333.2 L1225.6 332.8 L1228.6 333.8 L1231.4 335.5 L1234.6 336.7 L1237.0 339.0 L1239.4 340.2 L1242.0 341.0 L1244.4 342.4 L1246.4 344.3 L1248.6 346.6 L1250.2 349.5 L1252.7 351.6 L1254.7 353.3 L1255.8 355.8 L1252.7 356.4 L1255.3 357.0 L1257.5 358.5 L1260.0 359.3 L1263.6 355.8 L1262.6 359.4 L1263.1 363.1 L1265.1 366.3 L1267.3 369.4 L1268.4 372.1 L1268.4 375.2 L1270.1 377.7 L1272.1 380.2 L1272.3 383.6 L1274.2 386.1 L1273.5 388.8 L1272.1 391.3 L1274.4 393.6 L1275.7 396.6 L1275.6 399.5 L1274.6 402.2 L1273.6 404.9 L1271.1 407.2 L1269.4 410.2 L1267.2 411.7 L1264.5 412.1 L1262.1 413.3 L1259.1 411.5 L1255.8 410.2 L1253.3 411.9 L1250.6 413.3 L1250.0 416.4 L1252.7 413.3 L1255.3 414.4 L1257.9 415.4 L1260.8 415.0 L1263.6 415.4 L1266.3 416.4 L1266.7 419.2 L1263.9 420.0 L1261.1 420.0 L1259.0 422.7 L1263.1 421.7 L1261.2 423.6 L1259.8 425.9 L1257.9 427.9 L1256.6 430.2 L1254.7 432.0 L1253.3 434.3 L1251.6 436.3 L1249.7 438.1 L1247.2 439.1 L1245.2 440.8 L1243.3 442.6 L1241.0 444.0 L1238.3 444.6 L1236.0 445.7 L1235.5 442.6 L1234.9 439.4 L1232.4 441.1 L1230.7 443.6 L1228.4 444.9 L1226.5 446.8 L1229.2 446.4 L1231.8 446.8 L1234.9 448.9 L1230.7 450.9 L1227.7 451.1 L1225.3 453.2 L1222.4 453.5 L1219.6 454.8 L1216.6 455.6 L1214.0 457.2 L1210.8 457.3 L1207.7 456.2 L1204.9 457.2 L1202.4 459.0 L1199.3 459.3 L1196.8 458.2 L1194.1 457.6 L1191.8 459.0 L1189.9 461.0 L1186.8 459.6 L1183.9 457.9 L1180.5 457.2 L1177.4 457.5 L1174.2 456.9 L1171.1 457.2 L1169.1 454.8 L1166.9 452.6 L1164.3 453.2 L1161.7 454.1 L1158.5 453.4 L1155.5 452.0 L1152.4 451.0 L1149.1 450.9 L1148.0 448.2 L1147.3 445.3 L1146.0 442.6 L1141.8 440.5 L1138.8 438.9 L1136.6 436.3 L1133.9 436.5 L1131.3 437.4 L1130.0 434.6 L1128.2 432.1 L1126.9 429.3 L1124.8 427.2 L1122.3 425.4 L1120.5 423.0 L1118.8 420.6 L1121.5 419.8 L1124.0 418.5 L1123.8 415.3 L1125.1 412.2 L1121.5 410.2 L1120.9 414.3 L1117.7 412.8 L1114.6 411.2 L1113.4 408.8 L1112.6 406.3 L1111.8 403.9 L1112.2 401.0 L1111.1 398.6 L1109.6 395.1 L1109.4 391.3 L1110.6 388.5 L1112.5 386.1 L1112.1 383.0 L1112.7 379.8 L1111.9 376.7 L1114.5 375.3 L1117.4 375.0 L1120.2 374.4 L1123.0 373.5 L1120.8 371.6 L1118.4 370.3 L1115.7 369.4 L1119.1 368.3 L1121.9 366.2 L1122.6 363.3 L1123.9 360.6 L1125.1 357.9 L1127.6 356.1 L1130.3 354.7 L1132.0 356.8 L1134.5 357.9 L1135.5 354.7 L1133.3 352.5 L1130.3 351.6 L1132.0 349.1 L1134.1 347.0 L1136.6 345.3 L1138.9 343.1 L1141.6 341.3 L1144.4 339.8 L1147.0 338.0 L1149.6 336.9 L1151.9 335.1 L1154.2 333.5 L1157.0 332.8 L1159.6 331.7 L1161.8 333.6 L1163.8 335.9 L1164.2 332.7 L1169.0 332.7 L1169.0 337.6 L1172.5 337.7 L1175.9 337.6 L1174.2 332.7 L1177.2 332.0 L1179.6 330.2 L1182.1 328.5 L1184.7 327.1 L1187.8 327.8 L1190.9 328.4 L1194.1 328.6 Z"/>
<ellipse cx="1191.6" cy="393" rx="3.3" ry="2.8"/>
<path d="M1189.2 500.7 L1191.7 497.9 L1194.3 497.2 L1197.0 496.5 L1199.7 496.7 L1202.2 499.2 L1205.8 500.5 L1209.5 501.3 L1214.3 502.7 L1215.8 504.8 L1214.8 507.8 L1212.7 510.1 L1209.5 511.4 L1206.4 512.8 L1207.4 509.7 L1209.9 507.1 L1212.7 504.8 L1214.8 503.2 L1218.0 502.8 L1221.0 503.8 L1223.8 505.5 L1227.0 506.7 L1229.4 509.0 L1231.8 510.2 L1234.4 511.0 L1236.8 512.4 L1238.8 514.3 L1241.0 516.6 L1242.6 519.5 L1245.1 521.6 L1247.1 523.3 L1248.2 525.8 L1245.1 526.4 L1247.7 527.0 L1249.9 528.5 L1252.4 529.3 L1256.0 525.8 L1255.0 529.4 L1255.5 533.1 L1257.5 536.3 L1259.7 539.4 L1260.8 542.1 L1260.8 545.2 L1262.5 547.7 L1264.5 550.2 L1264.7 553.6 L1266.6 556.1 L1265.9 558.8 L1264.5 561.3 L1266.8 563.6 L1268.1 566.6 L1268.0 569.5 L1267.0 572.2 L1266.0 574.9 L1263.5 577.2 L1261.8 580.2 L1259.6 581.7 L1256.9 582.1 L1254.5 583.3 L1251.5 581.5 L1248.2 580.2 L1245.7 581.9 L1243.0 583.3 L1242.4 586.4 L1245.1 583.3 L1247.7 584.4 L1250.3 585.4 L1253.2 585.0 L1256.0 585.4 L1258.7 586.4 L1259.1 589.2 L1256.3 590.0 L1253.5 590.0 L1251.4 592.7 L1255.5 591.7 L1253.6 593.6 L1252.2 595.9 L1250.3 597.9 L1249.0 600.2 L1247.1 602.0 L1245.7 604.3 L1244.0 606.3 L1242.1 608.1 L1239.6 609.1 L1237.6 610.8 L1235.7 612.6 L1233.4 614.0 L1230.7 614.6 L1228.4 615.7 L1227.9 612.6 L1227.3 609.4 L1224.8 611.1 L1223.1 613.6 L1220.8 614.9 L1218.9 616.8 L1221.6 616.4 L1224.2 616.8 L1227.3 618.9 L1223.1 620.9 L1220.1 621.1 L1217.7 623.2 L1214.8 623.5 L1212.0 624.8 L1209.0 625.6 L1206.4 627.2 L1203.2 627.3 L1200.1 626.2 L1197.3 627.2 L1194.8 629.0 L1191.7 629.3 L1189.2 628.2 L1186.5 627.6 L1184.2 629.0 L1182.3 631.0 L1179.2 629.6 L1176.3 627.9 L1172.9 627.2 L1169.8 627.5 L1166.6 626.9 L1163.5 627.2 L1161.5 624.8 L1159.3 622.6 L1156.7 623.2 L1154.1 624.1 L1150.9 623.4 L1147.9 622.0 L1144.8 621.0 L1141.5 620.9 L1140.4 618.2 L1139.7 615.3 L1138.4 612.6 L1134.2 610.5 L1131.2 608.9 L1129.0 606.3 L1126.3 606.5 L1123.7 607.4 L1122.4 604.6 L1120.6 602.1 L1119.3 599.3 L1117.2 597.2 L1114.7 595.4 L1112.9 593.0 L1111.2 590.6 L1113.9 589.8 L1116.4 588.5 L1116.2 585.3 L1117.5 582.2 L1113.9 580.2 L1113.3 584.3 L1110.1 582.8 L1107.0 581.2 L1105.8 578.8 L1105.0 576.3 L1104.2 573.9 L1104.6 571.0 L1103.5 568.6 L1102.0 565.1 L1101.8 561.3 L1103.0 558.5 L1104.9 556.1 L1104.5 553.0 L1105.1 549.8 L1104.3 546.7 L1106.9 545.3 L1109.8 545.0 L1112.6 544.4 L1115.4 543.5 L1113.2 541.6 L1110.8 540.3 L1108.1 539.4 L1111.5 538.3 L1114.3 536.2 L1115.0 533.3 L1116.3 530.6 L1117.5 527.9 L1120.0 526.1 L1122.7 524.7 L1124.4 526.8 L1126.9 527.9 L1127.9 524.7 L1125.7 522.5 L1122.7 521.6 L1124.4 519.1 L1126.5 517.0 L1129.0 515.3 L1131.3 513.1 L1134.0 511.3 L1136.8 509.8 L1139.4 508.0 L1142.0 506.9 L1144.3 505.1 L1146.6 503.5 L1149.4 502.8 L1152.0 501.7 L1154.2 503.6 L1156.2 505.9 L1156.6 502.7 L1161.4 502.7 L1161.4 507.6 L1164.9 507.7 L1168.3 507.6 L1166.6 502.7 L1169.6 502.0 L1172.0 500.2 L1174.5 498.5 L1177.1 497.1 L1180.2 497.8 L1183.3 498.4 L1186.5 498.6 Z"/>
<ellipse cx="1184" cy="563" rx="3.3" ry="2.8"/>
<path d="M1172.8 671.7 L1175.3 668.9 L1177.9 668.2 L1180.6 667.5 L1183.3 667.7 L1185.8 670.2 L1189.4 671.5 L1193.1 672.3 L1197.9 673.7 L1199.4 675.8 L1198.4 678.8 L1196.3 681.1 L1193.1 682.4 L1190.0 683.8 L1191.0 680.7 L1193.5 678.1 L1196.3 675.8 L1198.4 674.2 L1201.6 673.8 L1204.6 674.8 L1207.4 676.5 L1210.6 677.7 L1213.0 680.0 L1215.4 681.2 L1218.0 682.0 L1220.4 683.4 L1222.4 685.3 L1224.6 687.6 L1226.2 690.5 L1228.7 692.6 L1230.7 694.3 L1231.8 696.8 L1228.7 697.4 L1231.3 698.0 L1233.5 699.5 L1236.0 700.3 L1239.6 696.8 L1238.6 700.4 L1239.1 704.1 L1241.1 707.3 L1243.3 710.4 L1244.4 713.1 L1244.4 716.2 L1246.1 718.7 L1248.1 721.2 L1248.3 724.6 L1250.2 727.1 L1249.5 729.8 L1248.1 732.3 L1250.4 734.6 L1251.7 737.6 L1251.6 740.5 L1250.6 743.2 L1249.6 745.9 L1247.1 748.2 L1245.4 751.2 L1243.2 752.7 L1240.5 753.1 L1238.1 754.3 L1235.1 752.5 L1231.8 751.2 L1229.3 752.9 L1226.6 754.3 L1226.0 757.4 L1228.7 754.3 L1231.3 755.4 L1233.9 756.4 L1236.8 756.0 L1239.6 756.4 L1242.3 757.4 L1242.7 760.2 L1239.9 761.0 L1237.1 761.0 L1235.0 763.7 L1239.1 762.7 L1237.2 764.6 L1235.8 766.9 L1233.9 768.9 L1232.6 771.2 L1230.7 773.0 L1229.3 775.3 L1227.6 777.3 L1225.7 779.1 L1223.2 780.1 L1221.2 781.8 L1219.3 783.6 L1217.0 785.0 L1214.3 785.6 L1212.0 786.7 L1211.5 783.6 L1210.9 780.4 L1208.4 782.1 L1206.7 784.6 L1204.4 785.9 L1202.5 787.8 L1205.2 787.4 L1207.8 787.8 L1210.9 789.9 L1206.7 791.9 L1203.7 792.1 L1201.3 794.2 L1198.4 794.5 L1195.6 795.8 L1192.6 796.6 L1190.0 798.2 L1186.8 798.3 L1183.7 797.2 L1180.9 798.2 L1178.4 800.0 L1175.3 800.3 L1172.8 799.2 L1170.1 798.6 L1167.8 800.0 L1165.9 802.0 L1162.8 800.6 L1159.9 798.9 L1156.5 798.2 L1153.4 798.5 L1150.2 797.9 L1147.1 798.2 L1145.1 795.8 L1142.9 793.6 L1140.3 794.2 L1137.7 795.1 L1134.5 794.4 L1131.5 793.0 L1128.4 792.0 L1125.1 791.9 L1124.0 789.2 L1123.3 786.3 L1122.0 783.6 L1117.8 781.5 L1114.8 779.9 L1112.6 777.3 L1109.9 777.5 L1107.3 778.4 L1106.0 775.6 L1104.2 773.1 L1102.9 770.3 L1100.8 768.2 L1098.3 766.4 L1096.5 764.0 L1094.8 761.6 L1097.5 760.8 L1100.0 759.5 L1099.8 756.3 L1101.1 753.2 L1097.5 751.2 L1096.9 755.3 L1093.7 753.8 L1090.6 752.2 L1089.4 749.8 L1088.6 747.3 L1087.8 744.9 L1088.2 742.0 L1087.1 739.6 L1085.6 736.1 L1085.4 732.3 L1086.6 729.5 L1088.5 727.1 L1088.1 724.0 L1088.7 720.8 L1087.9 717.7 L1090.5 716.3 L1093.4 716.0 L1096.2 715.4 L1099.0 714.5 L1096.8 712.6 L1094.4 711.3 L1091.7 710.4 L1095.1 709.3 L1097.9 707.2 L1098.6 704.3 L1099.9 701.6 L1101.1 698.9 L1103.6 697.1 L1106.3 695.7 L1108.0 697.8 L1110.5 698.9 L1111.5 695.7 L1109.3 693.5 L1106.3 692.6 L1108.0 690.1 L1110.1 688.0 L1112.6 686.3 L1114.9 684.1 L1117.6 682.3 L1120.4 680.8 L1123.0 679.0 L1125.6 677.9 L1127.9 676.1 L1130.2 674.5 L1133.0 673.8 L1135.6 672.7 L1137.8 674.6 L1139.8 676.9 L1140.2 673.7 L1145.0 673.7 L1145.0 678.6 L1148.5 678.7 L1151.9 678.6 L1150.2 673.7 L1153.2 673.0 L1155.6 671.2 L1158.1 669.5 L1160.7 668.1 L1163.8 668.8 L1166.9 669.4 L1170.1 669.6 Z"/>
<ellipse cx="1167.6" cy="734" rx="3.3" ry="2.8"/>
</g>
</svg></body></html>
